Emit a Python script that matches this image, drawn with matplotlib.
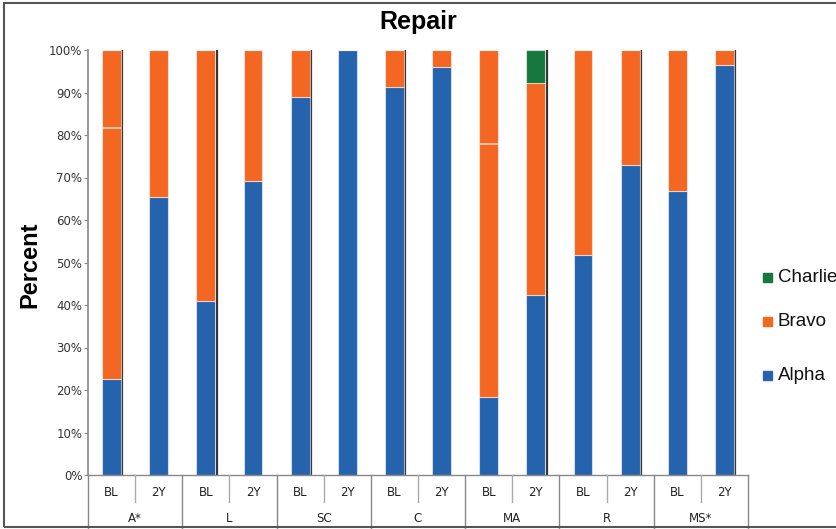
import matplotlib
matplotlib.use("Agg")
import matplotlib.pyplot as plt
import matplotlib.transforms as mtransforms
from matplotlib.patches import Rectangle
import numpy as np

# data (percent of each bar)
groups = ["A*", "L", "SC", "C", "MA", "R", "MS*"]
timepoints = ["BL", "2Y"]
alpha = [22.5, 65.3, 41.0, 69.2, 88.9, 100.0, 91.2, 95.9, 18.4, 42.4, 51.8, 72.9, 66.9, 96.4]
bravo = [77.5, 34.7, 59.0, 30.8, 11.1, 0.0, 8.8, 4.1, 81.6, 49.9, 48.2, 27.1, 33.1, 3.6]
charlie = [0, 0, 0, 0, 0, 0, 0, 0, 0, 7.7, 0, 0, 0, 0]
# light divider visible inside some orange segments
bravo_break = [81.7, None, None, None, None, None, None, None, 77.8, None, None, None, None, None]
# dark shadow line on the right edge of some bars
shadow = [True, False, True, False, True, False, True, False, False, True, False, True, False, True]

C_ALPHA = "#2663AD"
C_BRAVO = "#F36722"
C_CHARLIE = "#16783C"

fig = plt.figure(figsize=(8.37, 5.29), dpi=100)
W, H = 837, 529
ax = fig.add_axes([88 / W, (H - 475) / H, (748 - 88) / W, (475 - 50) / H])

x = np.arange(len(alpha))
bw = 0.4
edge = (1, 1, 1, 0.55)
a = np.array(alpha)
b = np.array(bravo)
c = np.array(charlie)
ax.bar(x, a, bw, color=C_ALPHA, edgecolor=edge, linewidth=0.8, zorder=2)
ax.bar(x, b, bw, bottom=a, color=C_BRAVO, edgecolor=edge, linewidth=0.8, zorder=2)
ax.bar(x, c, bw, bottom=a + b, color=C_CHARLIE, edgecolor=edge, linewidth=0.8, zorder=2)

for i, v in enumerate(bravo_break):
    if v is not None:
        ax.hlines(v, i - bw / 2, i + bw / 2, color="#FAD2BC", linewidth=1.2, zorder=3)
for i, s in enumerate(shadow):
    if s:
        ax.vlines(i + bw / 2 + 0.03, 0, 100, color="#333333", linewidth=1.6, zorder=1)

ax.set_xlim(-0.5, len(alpha) - 0.5)
ax.set_ylim(0, 100)
ax.set_yticks(np.arange(0, 101, 10))
ax.set_yticklabels([f"{t}%" for t in range(0, 101, 10)], fontsize=8.5, color="#333333")
ax.tick_params(axis="y", length=3, width=0.8, color="#888888", pad=1)
ax.set_xticks([])
for sp in ["top", "right", "bottom"]:
    ax.spines[sp].set_visible(False)
ax.spines["left"].set_color("#888888")
ax.spines["left"].set_linewidth(1.2)

# category table below the axis
trans = mtransforms.blended_transform_factory(ax.transData, ax.transAxes)
row1 = -27 / 425
row2 = -53 / 425
n = len(alpha)
ax.plot([-0.5, n - 0.5], [0, 0], transform=trans, color="#888888", lw=1.0, clip_on=False)
for k in range(len(groups) + 1):
    xs = -0.5 + 2 * k
    ax.plot([xs, xs], [0, row2], transform=trans, color="#888888", lw=1.0, clip_on=False)
for k in range(len(groups)):
    xm = 0.5 + 2 * k
    ax.plot([xm, xm], [0, row1], transform=trans, color="#aaaaaa", lw=1.0, clip_on=False)
    ax.text(2 * k + 0.5, -43 / 425, groups[k], transform=trans, ha="center", va="center",
            fontsize=8.5, color="#222222")
for i in range(n):
    ax.text(i, -17 / 425, timepoints[i % 2], transform=trans, ha="center", va="center",
            fontsize=8.5, color="#222222")

fig.text(418 / W, 1 - 22 / H, "Repair", ha="center", va="center", fontsize=18,
         fontweight="bold", family="Liberation Sans")
fig.text(30 / W, 1 - 265 / H, "Percent", ha="center", va="center", rotation=90,
         fontsize=17, fontweight="bold", family="Liberation Sans")

# legend
legend_items = [("Charlie", C_CHARLIE, 277), ("Bravo", C_BRAVO, 321), ("Alpha", C_ALPHA, 375)]
for name, col, yy in legend_items:
    fig.patches.append(Rectangle((763 / W, 1 - (yy + 5) / H), 9 / W, 9 / H,
                                 transform=fig.transFigure, color=col))
    fig.text(778 / W, 1 - yy / H, name, ha="left", va="center", fontsize=13.5,
             family="Liberation Sans", color="#111111")

# outer frame (right edge is cut off)
fig.patches.append(Rectangle((4 / W, 2 / H), 2, 1 - 5 / H, transform=fig.transFigure,
                             fill=False, edgecolor="#555555", linewidth=1.5))

fig.savefig("out.png", dpi=100)
